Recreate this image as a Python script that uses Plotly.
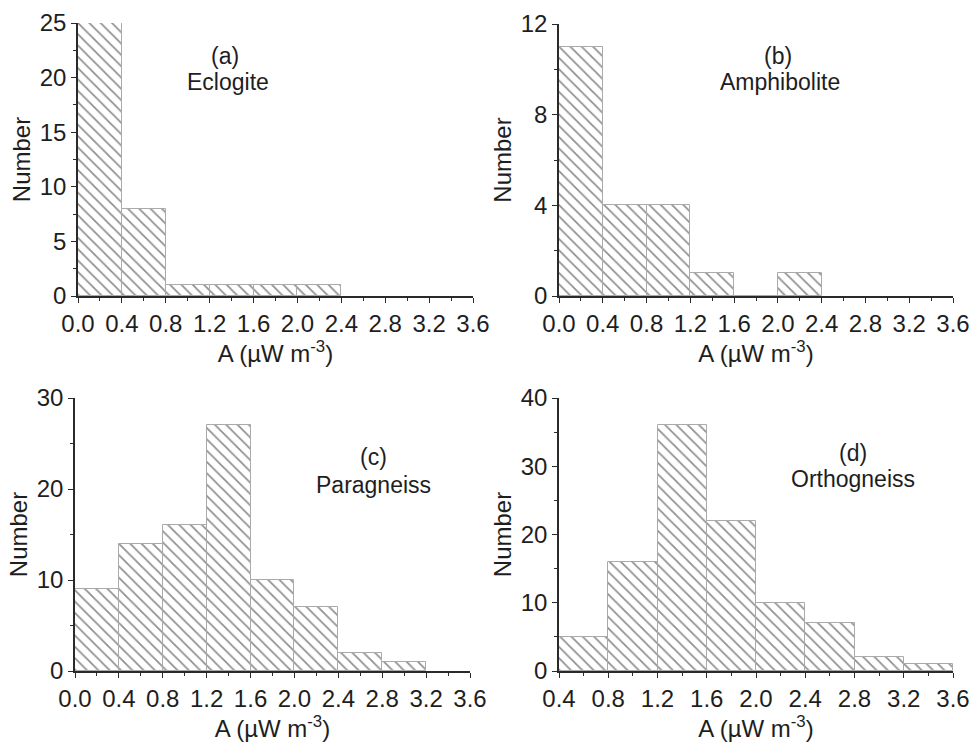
import plotly.graph_objects as go

# ---- data ----
bin_width = 0.4
a_starts = [0.0, 0.4, 0.8, 1.2, 1.6, 2.0]
a_counts = [25, 8, 1, 1, 1, 1]
b_starts = [0.0, 0.4, 0.8, 1.2, 1.6, 2.0]
b_counts = [11, 4, 4, 1, 0, 1]
c_starts = [0.0, 0.4, 0.8, 1.2, 1.6, 2.0, 2.4, 2.8]
c_counts = [9, 14, 16, 27, 10, 7, 2, 1]
d_starts = [0.4, 0.8, 1.2, 1.6, 2.0, 2.4, 2.8, 3.2]
d_counts = [5, 16, 36, 22, 10, 7, 2, 1]

panel_tags = ["(a)", "(b)", "(c)", "(d)"]
rock_names = ["Eclogite", "Amphibolite", "Paragneiss", "Orthogneiss"]

panels = [
    dict(starts=a_starts, counts=a_counts, xr=[0, 3.6], yr=[0, 25],
         ydt=5, ymin=2.5, tag_pos=(1.34, 22.0), name_pos=(1.37, 19.6),
         dom_x=(78, 473), dom_y=(23, 296)),
    dict(starts=b_starts, counts=b_counts, xr=[0, 3.6], yr=[0, 12],
         ydt=4, ymin=2, tag_pos=(2.00, 10.58), name_pos=(2.02, 9.42),
         dom_x=(559, 953), dom_y=(24, 296)),
    dict(starts=c_starts, counts=c_counts, xr=[0, 3.6], yr=[0, 30],
         ydt=10, ymin=5, tag_pos=(2.72, 23.5), name_pos=(2.72, 20.4),
         dom_x=(75, 470), dom_y=(398, 671)),
    dict(starts=d_starts, counts=d_counts, xr=[0.4, 3.6], yr=[0, 40],
         ydt=10, ymin=5, tag_pos=(2.79, 32.0), name_pos=(2.79, 28.2),
         dom_x=(559, 953), dom_y=(398, 671)),
]

W, H = 971, 744
FONT = "Liberation Sans, Arial, sans-serif"
TXT = "#1e1e1e"
FS = 24
fig = go.Figure()
annotations = []
for i, p in enumerate(panels, start=1):
    xa = "x" if i == 1 else f"x{i}"
    ya = "y" if i == 1 else f"y{i}"
    centers = [s + bin_width / 2 for s in p["starts"]]
    fig.add_trace(go.Bar(
        x=centers, y=p["counts"], width=bin_width,
        xaxis=xa, yaxis=ya, showlegend=False,
        marker=dict(color="white",
                    line=dict(color="#aaaaaa", width=1),
                    pattern=dict(shape="\\", fgcolor="#222222", bgcolor="white",
                                 size=8, solidity=0.22)),
    ))
    xkey = "xaxis" if i == 1 else f"xaxis{i}"
    ykey = "yaxis" if i == 1 else f"yaxis{i}"
    axis_common = dict(showline=True, linecolor="#2a2a2a", linewidth=1.6,
                       ticks="outside", ticklen=5, tickwidth=1.3, tickcolor="#2a2a2a",
                       showgrid=False, zeroline=False, automargin=False,
                       tickfont=dict(family=FONT, size=FS, color=TXT))
    fig.layout[xkey] = dict(
        **axis_common,
        domain=[p["dom_x"][0] / W, p["dom_x"][1] / W],
        range=p["xr"], tick0=0, dtick=0.4, tickformat=".1f",
        minor=dict(ticks="outside", ticklen=3, dtick=0.2, tick0=0, tickcolor="#2a2a2a"),
        anchor=ya,
        title=dict(text="A (µW m<sup>-3</sup>)", font=dict(family=FONT, size=FS, color=TXT),
                   standoff=3),
    )
    fig.layout[ykey] = dict(
        **axis_common,
        domain=[1 - p["dom_y"][1] / H, 1 - p["dom_y"][0] / H],
        range=p["yr"], tick0=0, dtick=p["ydt"],
        minor=dict(ticks="outside", ticklen=3, dtick=p["ymin"], tick0=0, tickcolor="#2a2a2a"),
        anchor=xa,
        title=dict(text="Number", font=dict(family=FONT, size=FS, color=TXT),
                   standoff=2),
    )
    annotations.append(dict(
        x=p["tag_pos"][0], y=p["tag_pos"][1], xref=xa, yref=ya, text=panel_tags[i - 1],
        showarrow=False, font=dict(family=FONT, size=23, color=TXT),
    ))
    annotations.append(dict(
        x=p["name_pos"][0], y=p["name_pos"][1], xref=xa, yref=ya, text=rock_names[i - 1],
        showarrow=False, font=dict(family=FONT, size=23, color=TXT),
    ))

fig.update_layout(
    width=W, height=H, margin=dict(l=0, r=0, t=0, b=0),
    paper_bgcolor="white", plot_bgcolor="white",
    annotations=annotations, bargap=0,
)
fig.write_html("out.html")
